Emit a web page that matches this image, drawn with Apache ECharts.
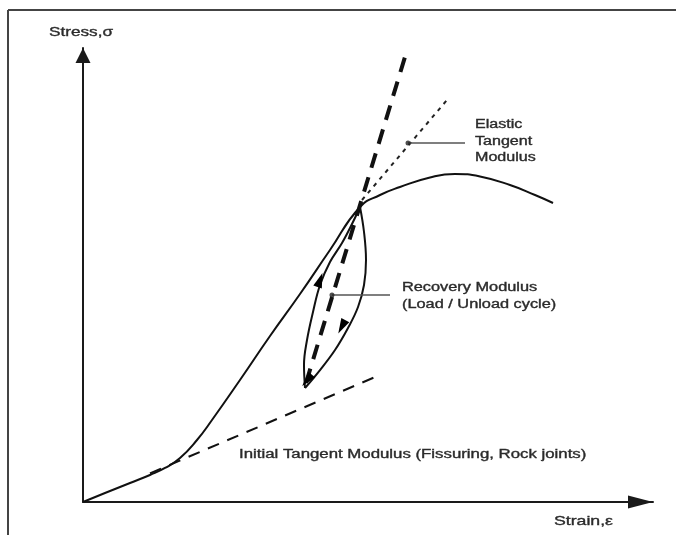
<!DOCTYPE html>
<html><head><meta charset="utf-8">
<script src="https://cdn.jsdelivr.net/npm/echarts@6/dist/echarts.min.js"></script>
<style>html,body{margin:0;padding:0;background:#fff}#c{width:676px;height:535px}</style>
</head><body><div id="c"></div>
<script>
// Stress-strain schematic, arbitrary units (strain 0-100, stress 0-100)
const mainCurve = [[0,0],[3.86,1.98],[8.25,4.19],[11.75,5.95],[14.39,7.49],[17.02,9.69],[20.0,13.66],[22.63,18.06],[27.54,26.87],[32.81,36.56],[38.07,45.81],[43.33,55.51],[48.6,64.98],[52.11,67.62],[55.61,69.38],[60.88,71.48],[65.26,72.25],[69.65,71.7],[74.91,69.82],[79.3,67.62],[82.46,65.86]];
const loadBranch = [[38.95,25.11],[38.77,30.18],[39.3,35.68],[40.35,41.85],[41.58,47.8],[43.33,52.86],[45.44,57.05],[47.19,61.23],[48.6,64.98]];
const unloadBranch = [[48.6,64.98],[49.3,59.47],[49.65,53.3],[49.3,47.8],[48.25,42.95],[46.49,38.33],[44.21,33.48],[41.58,29.07],[38.95,25.11]];
const initialTangent = [[11.75,6.32],[51.75,27.8]];
const recoveryModulus = [[39.12,26.21],[56.49,98.02]];
const elasticTangent = [[48.95,66.52],[63.86,88.55]];
const elasticPointer = [[57.02,79.07],[67.02,79.07]];
const recoveryPointer = [[43.68,45.59],[53.86,45.59]];
// arrowheads: [strain, stress, rotation deg]
const arrowHeads = [[41.58,48.9,-19],[45.4,38.6,152],[39.3,26.8,140]];
const pointerDots = [[57.02,79.07],[43.68,45.59]];
const xAxisTitle = 'Strain,\u03b5';
const yAxisTitle = 'Stress,\u03c3';
const labelElastic = ['Elastic','Tangent','Modulus'];
const labelRecovery = ['Recovery Modulus','(Load / Unload cycle)'];
const labelInitial = 'Initial Tangent Modulus (Fissuring, Rock joints)';

const chart = echarts.init(document.getElementById('c'), null, {renderer:'canvas'});
const FF = '"Liberation Sans", Arial, sans-serif';
const TXT = '#2a2a2a';
function txt(s, x, y, size, sx) {
  return {type:'text', x:x, y:y, scaleX:sx, z:100,
    style:{text:s, font:'normal '+size+'px '+FF, fill:TXT, stroke:TXT, lineWidth:0.35,
      textAlign:'left', textVerticalAlign:'middle', align:'left', verticalAlign:'middle'}};
}
const lineS = (data, extra) => Object.assign({type:'line', data:data, showSymbol:false, symbol:'none', silent:true,
  lineStyle:{color:'#111', width:2}}, extra||{});

const graphics = [
  {type:'line', shape:{x1:8,y1:10,x2:676,y2:10}, style:{stroke:'#444', lineWidth:2}},
  {type:'line', shape:{x1:8,y1:10,x2:8,y2:535}, style:{stroke:'#444', lineWidth:2}},
  txt(yAxisTitle, 49, 32, 13, 1.32),
  txt(xAxisTitle, 554, 521, 13, 1.36),
  txt(labelElastic[0], 475, 125, 12, 1.34),
  txt(labelElastic[1], 475, 142, 12, 1.34),
  txt(labelElastic[2], 475, 158, 12, 1.34),
  txt(labelRecovery[0], 402, 288, 12, 1.36),
  txt(labelRecovery[1], 402, 305, 12, 1.36),
  txt(labelInitial, 239, 455, 12, 1.40)
];

chart.setOption({
  animation:false,
  backgroundColor:'#fff',
  grid:{left:83, right:23, top:48, bottom:33, containLabel:false, outerBoundsMode:'none'},
  xAxis:{type:'value', min:0, max:100, axisLabel:{show:false}, axisTick:{show:false}, splitLine:{show:false},
    axisLine:{show:true, onZero:false, lineStyle:{color:'#1a1a1a', width:2}, symbol:['none','triangle'], symbolSize:[13,25], symbolOffset:[0,-12.5]}},
  yAxis:{type:'value', min:0, max:100, axisLabel:{show:false}, axisTick:{show:false}, splitLine:{show:false},
    axisLine:{show:true, onZero:false, lineStyle:{color:'#1a1a1a', width:2}, symbol:['none','triangle'], symbolSize:[15,15], symbolOffset:[0,-7.5]}},
  series:[
    lineS(mainCurve, {smooth:0.5}),
    lineS(loadBranch, {smooth:0.4}),
    lineS(unloadBranch, {smooth:0.4}),
    lineS(initialTangent, {lineStyle:{color:'#111', width:2, type:[12,9]}}),
    lineS(recoveryModulus, {lineStyle:{color:'#111', width:4, type:[15,10]}}),
    lineS(elasticTangent, {lineStyle:{color:'#222', width:2, type:[4,5]}}),
    lineS(elasticPointer, {lineStyle:{color:'#555', width:1.3}}),
    lineS(recoveryPointer, {lineStyle:{color:'#555', width:1.3}}),
    {type:'scatter', data:arrowHeads, symbol:'triangle', symbolSize:[9,15], silent:true,
      symbolRotate:function(v){return v[2];}, itemStyle:{color:'#000', opacity:1}, z:5},
    {type:'scatter', data:pointerDots, symbol:'circle', symbolSize:5, silent:true, itemStyle:{color:'#222'}, z:5}
  ],
  graphic:graphics
});
</script>
</body></html>
